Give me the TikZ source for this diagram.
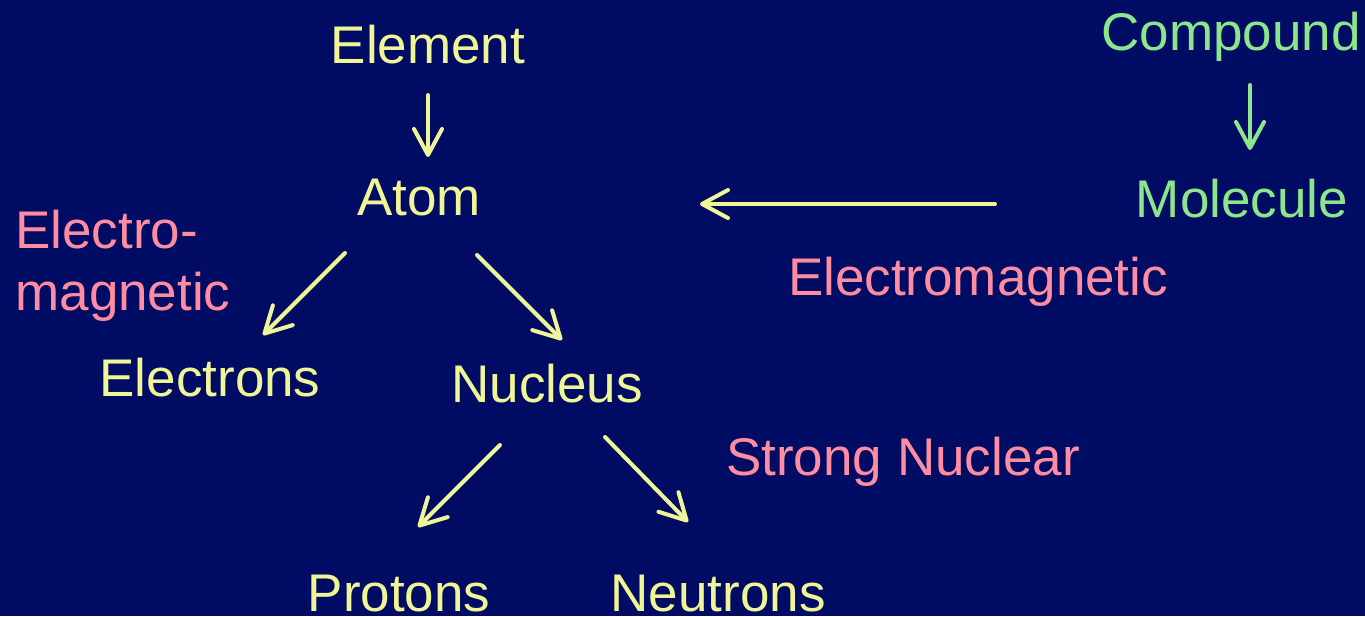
\documentclass[tikz,border=0pt]{standalone}
\usepackage{fontspec}
\setmainfont{Liberation Sans}
\usetikzlibrary{arrows.meta}
\definecolor{bg}{RGB}{0,12,100}
\definecolor{ylw}{RGB}{240,245,150}
\definecolor{pnk}{RGB}{255,140,160}
\definecolor{grn}{RGB}{140,230,140}
\tikzset{
  lbl/.style={inner sep=0pt, anchor=base, font=\fontsize{26.5}{32}\selectfont},
  arr/.style={line width=2pt, draw=ylw, line cap=round,
    -{Straight Barb[length=13pt,width=14pt,line width=2pt,round]}},
  garr/.style={arr, draw=grn},
}
\begin{document}
\begin{tikzpicture}[x=0.5pt,y=-0.5pt]
\fill[bg] (0,0) rectangle (1365,616);
\useasboundingbox (0,0) rectangle (1365,616);
\node[lbl, text=ylw] (element) at (428,63) {Element};
\node[lbl, text=ylw] (atom) at (419,215) {Atom};
\node[lbl, text=grn] (compound) at (1231,50) {Compound};
\node[lbl, text=grn] (molecule) at (1242,217) {Molecule};
\node[lbl, text=pnk, anchor=base west] (em1) at (15,248) {Electro-};
\node[lbl, text=pnk, anchor=base west] (em2) at (15,310) {magnetic};
\node[lbl, text=ylw] (electrons) at (210,396) {Electrons};
\node[lbl, text=ylw] (nucleus) at (547,402) {Nucleus};
\node[lbl, text=pnk] (emlabel) at (978,295) {Electromagnetic};
\node[lbl, text=pnk] (strong) at (903,475) {Strong Nuclear};
\node[lbl, text=ylw] (protons) at (399,611) {Protons};
\node[lbl, text=ylw] (neutrons) at (718,611) {Neutrons};
% connectors
\draw[arr] ([shift={(0,32)}]element.base) -- ([shift={(9,-58)}]atom.base);
\draw[garr] ([shift={(19,35)}]compound.base) -- ([shift={(8,-67)}]molecule.base);
\draw[arr] ([shift={(-247,-13)}]molecule.base) -- ([shift={(281,-11)}]atom.base);
\draw[arr] ([shift={(-74,38)}]atom.base) -- ([shift={(53,-61)}]electrons.base);
\draw[arr] ([shift={(58,40)}]atom.base) -- ([shift={(15,-62)}]nucleus.base);
\draw[arr] ([shift={(-47,43)}]nucleus.base) -- ([shift={(19,-84)}]protons.base);
\draw[arr] ([shift={(58,35)}]nucleus.base) -- ([shift={(-30,-89)}]neutrons.base);
\end{tikzpicture}
\end{document}
